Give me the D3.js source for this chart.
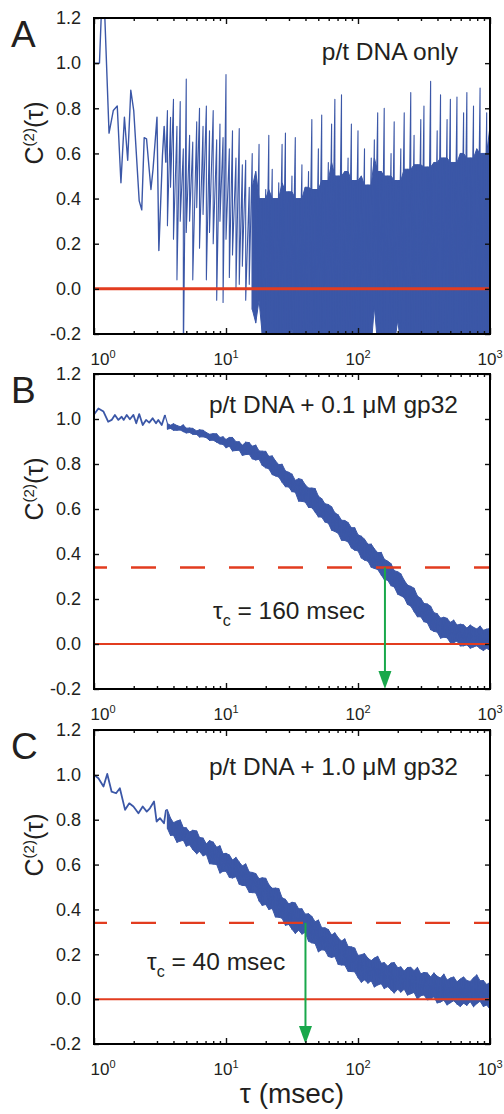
<!DOCTYPE html>
<html>
<head>
<meta charset="utf-8">
<script src="https://cdn.jsdelivr.net/npm/d3@7"></script>
<style>
body { margin: 0; background: #fff; }
svg { display: block; }
svg text { font-family: "Liberation Sans", Arial, sans-serif; fill: #231f20; }
</style>
</head>
<body>
<svg id="fig" width="504" height="1114"></svg>
<script>

// axis values
var tauTicks = [1, 10, 100, 1000];
var tauTickExp = ["0", "1", "2", "3"];
var cTicks = [-0.2, 0, 0.2, 0.4, 0.6, 0.8, 1.0, 1.2];
var threshold = 0.34;

// tau grid (msec) used for the dense part of every trace
var bandTau = [3.6,3.8,4,4.25,4.5,4.75,5,5.3,5.6,6,6.3,6.7,7.1,7.5,8,8.5,9,9.5,
	10,10.6,11.2,11.9,12.6,13.3,14.1,15,15.8,16.8,17.8,18.8,20,21.1,22.4,23.7,25.1,26.6,28.2,29.9,
	31.6,33.5,35.5,37.6,39.8,42.2,44.7,47.3,50.1,53.1,56.2,59.6,63.1,66.8,70.8,75,79.4,84.1,89.1,94.4,
	100,106,112,119,126,133,141,150,158,168,178,188,200,211,224,237,251,266,282,299,
	316,335,355,376,398,422,447,473,501,531,562,596,631,668,708,750,794,841,891,944,1000];

// panel A: p/t DNA only
var earlyTauA = [1.0,1.1,1.15,1.2,1.3,1.4,1.5,1.6,1.7,1.8,1.9,2.0,2.2,2.3,2.4,2.5,2.7,2.8,3.0,3.1,3.3,3.4,3.5];
var earlyA = [1.0,1.0,1.3,1.25,0.69,0.79,0.81,0.47,0.76,0.57,0.88,0.79,0.39,0.35,0.67,0.665,0.44,0.53,0.76,0.17,0.59,0.72,0.56];
var hiA = [0.79,0.76,0.84,0.72,0.83,0.62,0.93,0.68,0.65,0.74,0.80,0.72,0.81,0.70,0.79,0.66,0.73,0.67,
	0.95,0.62,0.70,0.58,0.71,0.55,0.57,0.45,0.60,0.52,0.64,0.40,0.44,0.68,0.53,0.40,0.47,0.64,0.69,0.43,
	0.50,0.67,0.40,0.55,0.45,0.52,0.75,0.44,0.62,0.77,0.48,0.56,0.73,0.84,0.50,0.86,0.52,0.58,0.73,0.48,
	0.70,0.50,0.62,0.46,0.58,0.66,0.78,0.52,0.80,0.50,0.60,0.74,0.48,0.62,0.78,0.53,0.87,0.68,0.55,0.75,
	0.81,0.54,0.92,0.56,0.70,0.86,0.58,0.75,0.84,0.56,0.85,0.60,0.78,0.87,0.58,0.81,0.62,0.89,0.60,0.78,0.72];
var loA = [0.28,0.45,0.22,0.04,0.30,-0.35,0.25,0.30,0.04,0.36,0.18,0.33,0.04,0.25,0.20,-0.05,0.30,-0.06,
	0.22,0.05,0.15,0.0,0.02,0.10,-0.05,0.02,-0.09,-0.15,-0.05,-0.20,-0.25,-0.25,-0.22,-0.25,-0.20,-0.25,-0.22,-0.25,
	-0.18,-0.25,-0.22,-0.25,-0.20,-0.25,-0.22,-0.25,-0.25,-0.22,-0.25,-0.25,-0.20,-0.25,-0.25,-0.22,-0.25,-0.25,-0.20,-0.25,
	-0.25,-0.25,-0.22,-0.25,-0.25,-0.08,-0.25,-0.25,-0.22,-0.25,-0.25,-0.25,-0.14,-0.25,-0.22,-0.25,-0.25,-0.25,-0.22,-0.25,
	-0.25,-0.25,-0.22,-0.25,-0.25,-0.25,-0.25,-0.22,-0.25,-0.25,-0.25,-0.25,-0.22,-0.25,-0.25,-0.25,-0.25,-0.25,-0.25,-0.22,-0.25];

// panel B: + 0.1 uM gp32
var earlyTauB = [1.0,1.08,1.18,1.28,1.36,1.44,1.53,1.62,1.68,1.77,1.87,1.99,2.09,2.2,2.34,2.48,2.62,2.78,2.95,3.07,3.26,3.45];
var earlyB = [1.02,1.047,1.033,0.988,0.996,1.018,0.996,1.01,0.996,1.018,0.999,1.018,0.981,1.022,0.973,0.996,0.984,1.003,0.981,0.996,0.973,1.018];
var hiB = [0.980,0.972,0.979,0.971,0.966,0.974,0.959,0.960,0.958,0.947,0.952,0.950,0.940,0.932,0.935,0.934,0.918,0.921,
	0.909,0.918,0.918,0.899,0.899,0.883,0.897,0.895,0.879,0.884,0.858,0.857,0.856,0.834,0.836,0.814,0.797,0.799,0.769,0.763,
	0.755,0.727,0.735,0.731,0.708,0.693,0.693,0.691,0.657,0.646,0.623,0.620,0.610,0.583,0.574,0.550,0.549,0.540,0.517,0.517,
	0.485,0.479,0.466,0.443,0.444,0.423,0.406,0.407,0.377,0.368,0.357,0.326,0.321,0.312,0.283,0.262,0.256,0.248,0.213,0.203,
	0.180,0.178,0.168,0.139,0.135,0.115,0.119,0.114,0.096,0.106,0.084,0.088,0.085,0.071,0.084,0.074,0.067,0.080,0.061,0.066,0.069];
var loB = [0.955,0.958,0.950,0.950,0.951,0.944,0.938,0.940,0.932,0.931,0.920,0.921,0.917,0.905,0.906,0.897,0.889,0.887,
	0.872,0.879,0.858,0.860,0.861,0.838,0.842,0.843,0.823,0.818,0.821,0.794,0.783,0.779,0.753,0.747,0.742,0.719,0.699,0.698,
	0.677,0.675,0.635,0.634,0.631,0.607,0.606,0.587,0.565,0.564,0.542,0.537,0.506,0.500,0.492,0.461,0.460,0.454,0.427,0.417,
	0.414,0.382,0.373,0.368,0.341,0.336,0.331,0.307,0.287,0.283,0.259,0.254,0.221,0.215,0.206,0.176,0.169,0.144,0.121,0.121,
	0.099,0.095,0.064,0.056,0.053,0.026,0.030,0.028,0.006,0.006,0.013,-0.009,-0.008,-0.004,-0.019,-0.013,-0.008,-0.020,-0.029,-0.019,-0.029];

// panel C: + 1.0 uM gp32
var earlyTauC = [1.0,1.08,1.18,1.26,1.36,1.47,1.57,1.72,1.85,1.99,2.17,2.34,2.51,2.65,2.85,2.98,3.16,3.39,3.51];
var earlyC = [1.0,0.985,0.948,1.004,0.925,0.918,0.94,0.844,0.873,0.859,0.829,0.859,0.836,0.851,0.881,0.792,0.807,0.784,0.844];
var hiC = [0.844,0.807,0.787,0.794,0.799,0.765,0.764,0.745,0.753,0.750,0.721,0.718,0.692,0.707,0.700,0.677,0.684,0.648,
	0.650,0.643,0.620,0.632,0.611,0.594,0.603,0.567,0.565,0.560,0.537,0.541,0.539,0.511,0.494,0.495,0.493,0.452,0.445,0.424,
	0.432,0.429,0.403,0.403,0.379,0.381,0.369,0.345,0.353,0.318,0.318,0.310,0.286,0.296,0.274,0.259,0.269,0.235,0.233,0.228,
	0.195,0.198,0.203,0.182,0.172,0.183,0.191,0.160,0.163,0.147,0.161,0.163,0.140,0.144,0.125,0.141,0.142,0.127,0.142,0.113,
	0.119,0.117,0.099,0.117,0.102,0.094,0.112,0.085,0.094,0.099,0.077,0.090,0.099,0.083,0.079,0.095,0.108,0.082,0.083,0.065,0.075];
var loC = [0.761,0.730,0.731,0.699,0.705,0.708,0.682,0.688,0.667,0.648,0.659,0.639,0.645,0.604,0.602,0.600,0.562,0.570,
	0.570,0.543,0.540,0.546,0.512,0.507,0.506,0.476,0.475,0.474,0.438,0.418,0.422,0.400,0.404,0.366,0.365,0.361,0.329,0.333,
	0.312,0.293,0.307,0.290,0.298,0.258,0.251,0.248,0.211,0.220,0.218,0.190,0.186,0.190,0.155,0.152,0.152,0.124,0.123,0.122,
	0.096,0.075,0.086,0.071,0.082,0.054,0.063,0.069,0.047,0.056,0.041,0.027,0.044,0.031,0.044,0.018,0.024,0.030,0.000,0.015,
	0.019,-0.003,-0.001,0.011,-0.017,-0.013,-0.005,-0.026,-0.016,-0.007,-0.022,-0.033,-0.018,-0.028,-0.011,-0.034,-0.020,-0.009,-0.033,-0.026,-0.045];

var tauC = [null, 160, 40];

// colours
var blue = "#3b57a7";
var red = "#e23c1f";
var green = "#19a84b";

var panels = [
	{ letter: "A", top: 18, bottom: 334, note: ["p/t DNA only"], noteY: 60, core: true,
	  earlyTau: earlyTauA, early: earlyA, hi: hiA, lo: loA, fillFrom: 15.8, tc: tauC[0], zeroW: 3 },
	{ letter: "B", top: 374, bottom: 689, note: ["p/t DNA + 0.1 ", "\u03bc", "M gp32"], noteY: 413, core: false,
	  earlyTau: earlyTauB, early: earlyB, hi: hiB, lo: loB, fillFrom: 3.6, tc: tauC[1], zeroW: 2, tcX: 213, tcY: 619 },
	{ letter: "C", top: 730, bottom: 1044, note: ["p/t DNA + 1.0 ", "\u03bc", "M gp32"], noteY: 775, core: false,
	  earlyTau: earlyTauC, early: earlyC, hi: hiC, lo: loC, fillFrom: 3.6, tc: tauC[2], zeroW: 2, tcX: 147, tcY: 970 }
];

var svg = d3.select("#fig");
var left = 94, right = 490;

var x = d3.scaleLog().domain([1, 1000]).range([left, right]);
var minorTicks = x.ticks().filter(function(d) { return tauTicks.indexOf(d) < 0; });

panels.forEach(function(p, k) {
	var y = d3.scaleLinear().domain([-0.2, 1.2]).range([p.bottom, p.top]);
	var g = svg.append("g");

	// clip to the frame
	var clipId = "clip" + k;
	svg.append("clipPath").attr("id", clipId).append("rect")
		.attr("x", left).attr("y", p.top).attr("width", right - left).attr("height", p.bottom - p.top);
	var plot = g.append("g").attr("clip-path", "url(#" + clipId + ")");

	// early points as a plain line
	var early = [];
	for (var i = 0; i < p.earlyTau.length; i++) early.push([p.earlyTau[i], p.early[i]]);

	// dense part: zigzag between hi and lo at each tau
	var zig = [early[early.length - 1]];
	var band = [];
	for (var j = 0; j < bandTau.length; j++) {
		zig.push([bandTau[j], p.hi[j]]);
		zig.push([bandTau[j], p.lo[j]]);
		if (bandTau[j] >= p.fillFrom) {
			// for panel A the solid part stops at the lower of the neighbouring peaks
			var top = p.hi[j];
			if (p.core) top = d3.min([p.hi[j - 1], p.hi[j], p.hi[j + 1]]);
			band.push({ t: bandTau[j], hi: top, lo: p.lo[j] });
		}
	}

	var line = d3.line().x(function(d) { return x(d[0]); }).y(function(d) { return y(d[1]); });

	plot.append("path").datum(band)
		.attr("d", d3.area().x(function(d) { return x(d.t); })
			.y0(function(d) { return y(d.lo); }).y1(function(d) { return y(d.hi); }))
		.attr("fill", blue).attr("stroke", blue).attr("stroke-width", 1);

	plot.append("path").datum(zig).attr("d", line)
		.attr("fill", "none").attr("stroke", blue).attr("stroke-width", 1.1)
		.attr("stroke-linejoin", "round");

	plot.append("path").datum(early).attr("d", line)
		.attr("fill", "none").attr("stroke", blue).attr("stroke-width", k == 0 ? 1.4 : 1.8)
		.attr("stroke-linejoin", "round");

	// zero line
	plot.append("line").attr("x1", left).attr("x2", right).attr("y1", y(0)).attr("y2", y(0))
		.attr("stroke", red).attr("stroke-width", p.zeroW);

	// threshold line and arrow
	if (p.tc) {
		plot.append("line").attr("x1", left).attr("x2", right)
			.attr("y1", y(threshold)).attr("y2", y(threshold))
			.attr("stroke", red).attr("stroke-width", 2.4)
			.attr("stroke-dasharray", "25,24").attr("stroke-dashoffset", 12);
		var ax = x(p.tc);
		g.append("line").attr("x1", ax).attr("x2", ax).attr("y1", y(threshold)).attr("y2", p.bottom - 14)
			.attr("stroke", green).attr("stroke-width", 2);
		g.append("path")
			.attr("d", "M" + (ax - 6.5) + "," + (p.bottom - 18) + "L" + (ax + 6.5) + "," + (p.bottom - 18) + "L" + ax + "," + p.bottom + "Z")
			.attr("fill", green);
		var tl = g.append("text").attr("x", p.tcX).attr("y", p.tcY).attr("font-size", 24.5);
		tl.append("tspan").text("\u03c4");
		tl.append("tspan").attr("dy", 7).attr("font-size", 16).text("c");
		tl.append("tspan").attr("dy", -7).text(" = " + p.tc + " msec");
	}

	// axes with inward ticks
	var fmt = function(d) { return d.toFixed(1); };
	var yl = g.append("g").attr("transform", "translate(" + left + ",0)")
		.call(d3.axisLeft(y).tickValues(cTicks).tickSize(-5).tickSizeOuter(0).tickPadding(13).tickFormat(fmt));
	var yr = g.append("g").attr("transform", "translate(" + right + ",0)")
		.call(d3.axisRight(y).tickValues(cTicks).tickSize(-5).tickSizeOuter(0).tickFormat(""));
	var xb = g.append("g").attr("transform", "translate(0," + p.bottom + ")")
		.call(d3.axisBottom(x).tickValues(tauTicks).tickSize(-6).tickSizeOuter(0).tickFormat(""));
	var xbm = g.append("g").attr("transform", "translate(0," + p.bottom + ")")
		.call(d3.axisBottom(x).tickValues(minorTicks).tickSize(-3).tickSizeOuter(0).tickFormat(""));
	var xt = g.append("g").attr("transform", "translate(0," + p.top + ")")
		.call(d3.axisTop(x).tickValues(tauTicks).tickSize(-6).tickSizeOuter(0).tickFormat(""));
	var xtm = g.append("g").attr("transform", "translate(0," + p.top + ")")
		.call(d3.axisTop(x).tickValues(minorTicks).tickSize(-3).tickSizeOuter(0).tickFormat(""));
	[yl, yr, xb, xbm, xt, xtm].forEach(function(a) {
		a.select(".domain").remove();
		a.selectAll(".tick line").attr("stroke", "#111").attr("stroke-width", 1.4);
	});
	yl.selectAll(".tick text").attr("font-size", 18).attr("fill", "#231f20")
		.attr("font-family", "'Liberation Sans', Arial, sans-serif");

	// decade labels
	tauTicks.forEach(function(t, i) {
		var lab = g.append("text").attr("x", x(t) + (i == 0 ? 9 : 0)).attr("y", p.bottom + 31)
			.attr("text-anchor", "middle").attr("font-size", 17);
		lab.append("tspan").text("10");
		lab.append("tspan").attr("dy", -7).attr("font-size", 11).text(tauTickExp[i]);
	});

	// frame
	g.append("rect").attr("x", left).attr("y", p.top).attr("width", right - left).attr("height", p.bottom - p.top)
		.attr("fill", "none").attr("stroke", "#000").attr("stroke-width", 2);

	// y title: rotate, then move its drawn box onto the wanted centre
	var holder = g.append("g");
	var yt = holder.append("text").attr("font-size", 25).attr("transform", "rotate(-90)");
	yt.append("tspan").text("C");
	yt.append("tspan").attr("dy", -9).attr("font-size", 15).text("(2)");
	yt.append("tspan").attr("dy", 9).text("(\u03c4)");
	var box = yt.node().getBoundingClientRect();
	var cx = 34, cy = p.top + 115;
	holder.attr("transform", "translate(" + (cx - (box.left + box.width / 2)) + "," + (cy - (box.top + box.height / 2)) + ")");

	// panel letter
	g.append("text").attr("x", 11).attr("y", p.top + 29).attr("font-size", 37).text(p.letter);

	// condition note
	var nt = g.append("text").attr("x", 458).attr("y", p.noteY).attr("text-anchor", "end").attr("font-size", 24.5);
	p.note.forEach(function(s) { nt.append("tspan").text(s); });
});

// x title
var xt = svg.append("text").attr("x", 292).attr("y", 1103).attr("text-anchor", "middle").attr("font-size", 28);
xt.append("tspan").text("\u03c4 (msec)");

</script>
</body>
</html>
